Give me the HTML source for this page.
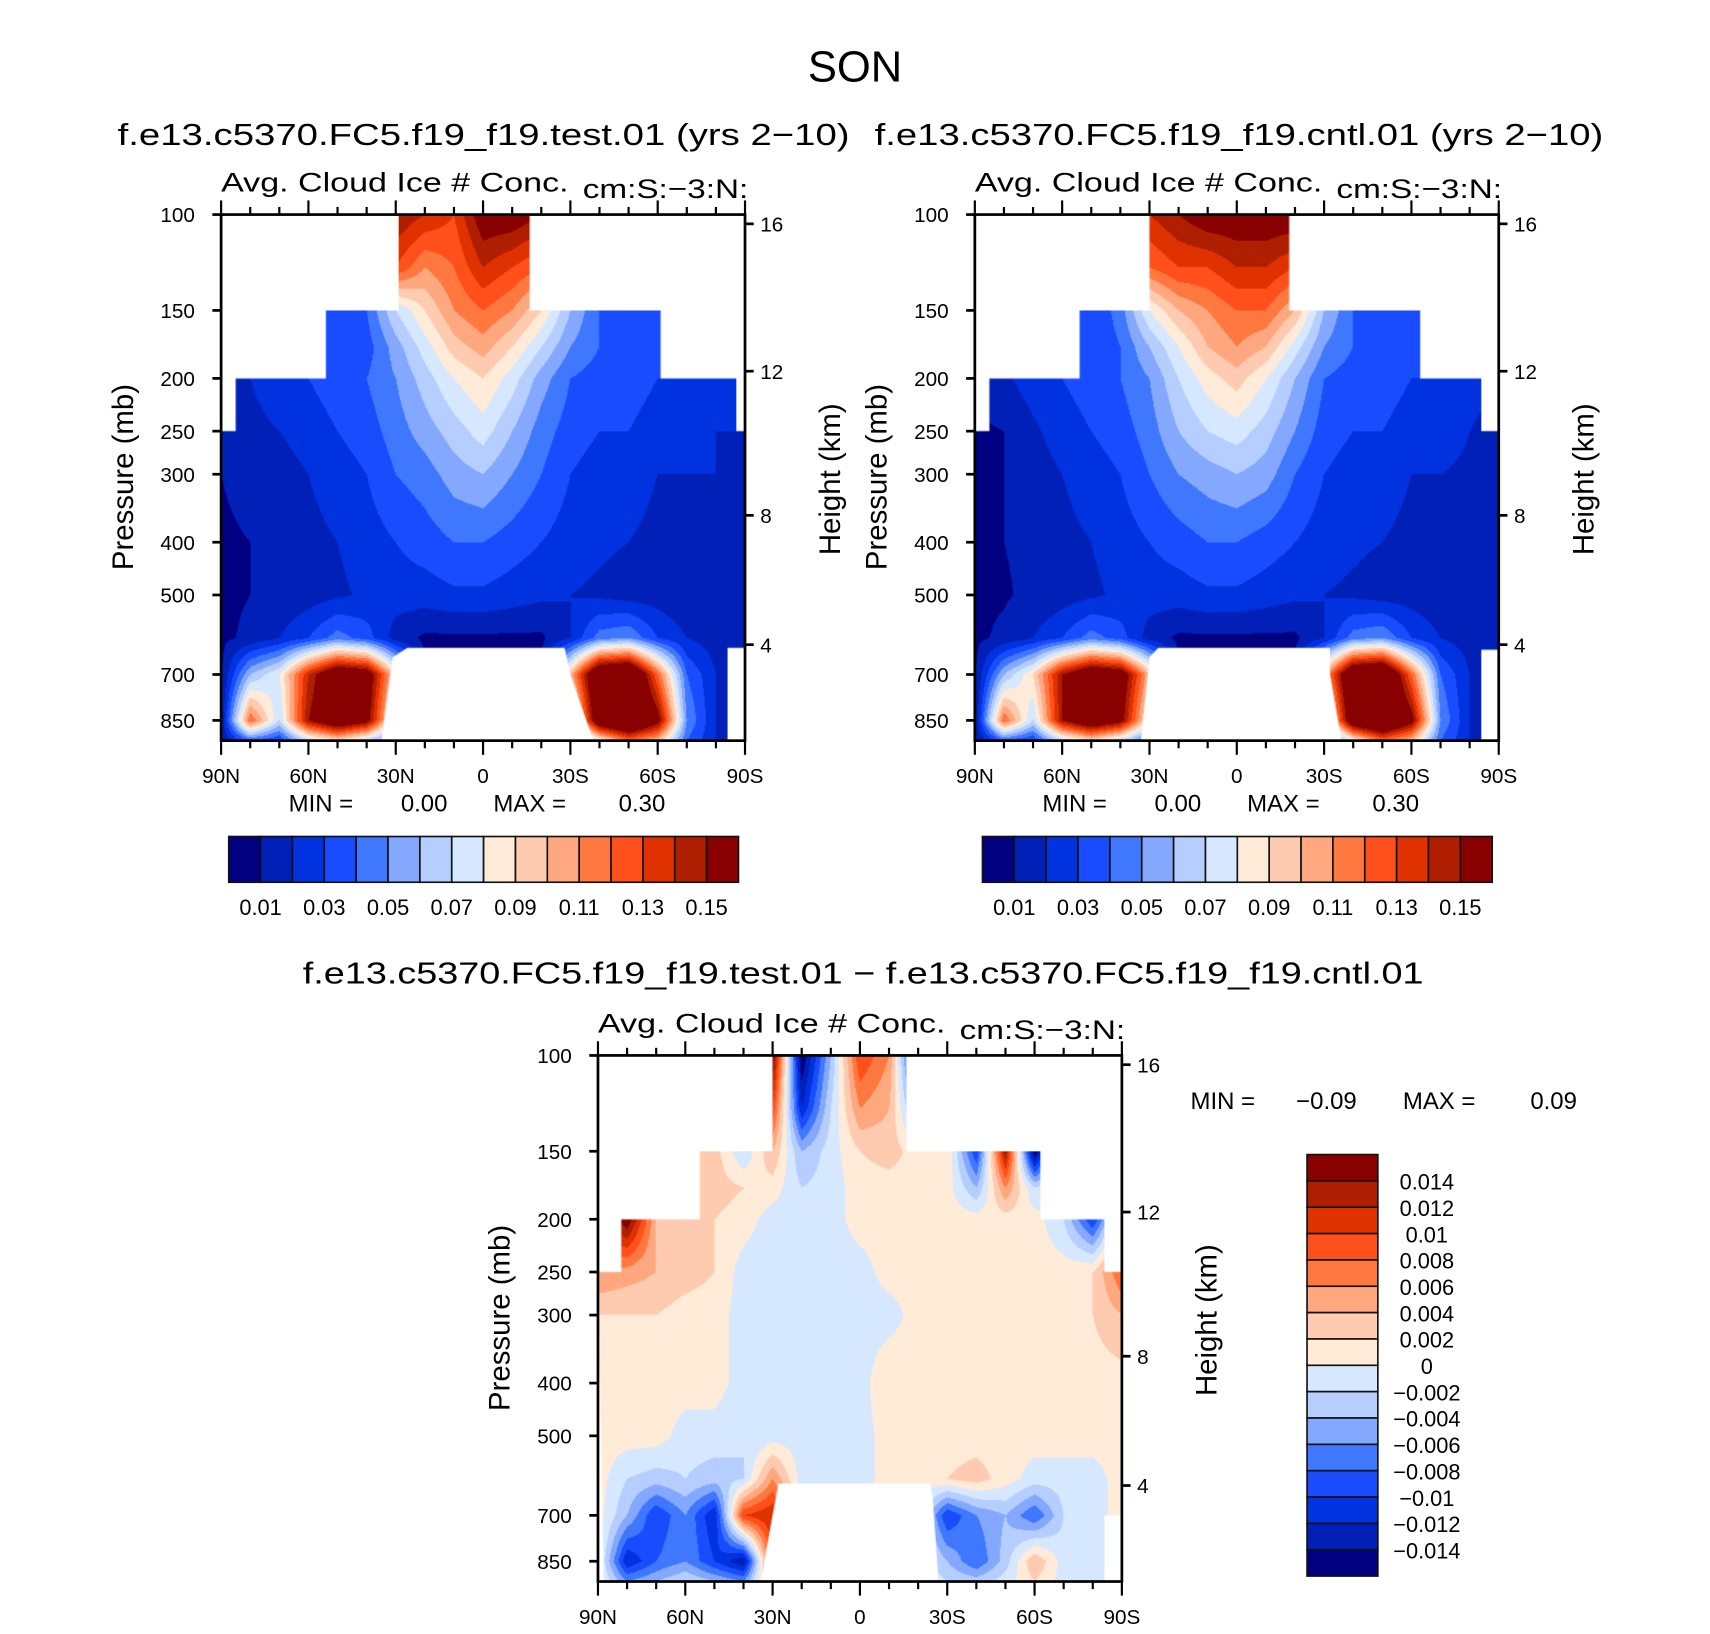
<!DOCTYPE html>
<html><head><meta charset="utf-8">
<style>
html,body{margin:0;padding:0;background:#fff;}
#wrap{position:relative;width:1710px;height:1634px;overflow:hidden;}
#inner{position:absolute;left:0;top:0;width:1570px;height:1500px;transform:scale(1.0892);transform-origin:0 0;}
canvas{position:absolute;}
svg{position:absolute;left:0;top:0;}
text{font-family:"Liberation Sans",sans-serif;fill:#000;}
</style></head>
<body>
<div id="wrap">
<div id="inner">
<canvas id="c0" width="481" height="483" style="left:203px;top:197px"></canvas>
<canvas id="c1" width="481" height="483" style="left:895px;top:197px"></canvas>
<canvas id="c2" width="481" height="483" style="left:549px;top:969px"></canvas>
<svg id="svg" width="1570" height="1500" viewBox="0 0 1570 1500">
<text x="785" y="75" font-size="40" text-anchor="middle">SON</text>
<text x="108" y="133" font-size="28" textLength="672" lengthAdjust="spacingAndGlyphs">f.e13.c5370.FC5.f19_f19.test.01 (yrs 2−10)</text>
<text x="803" y="133" font-size="28" textLength="669" lengthAdjust="spacingAndGlyphs">f.e13.c5370.FC5.f19_f19.cntl.01 (yrs 2−10)</text>
<text x="278" y="903" font-size="28" textLength="1029" lengthAdjust="spacingAndGlyphs">f.e13.c5370.FC5.f19_f19.test.01 − f.e13.c5370.FC5.f19_f19.cntl.01</text>
<g>
<text x="1093" y="1018" font-size="22">MIN =</text>
<text x="1190" y="1018" font-size="22">−0.09</text>
<text x="1288" y="1018" font-size="22">MAX =</text>
<text x="1405" y="1018" font-size="22">0.09</text>
</g>
</svg>
</div></div>
<script>
const lats=[90,80,70,60,50,40,30,20,10,0,-10,-20,-30,-40,-50,-60,-70,-80,-90];
const pres=[100,125,150,175,200,250,300,400,500,600,700,850,925];
const testVals=[
[.02,.02,.03,.05,.08,.12,.15,.14,.13,.16,.16,.15,.10,.06,.03,.02,.02,.02,.02],
[.02,.02,.03,.04,.06,.09,.13,.11,.12,.14,.13,.12,.08,.05,.03,.02,.02,.02,.02],
[.015,.02,.025,.03,.03,.04,.07,.09,.11,.12,.11,.09,.06,.04,.04,.03,.03,.02,.02],
[.015,.02,.025,.03,.03,.035,.055,.075,.095,.105,.09,.07,.05,.04,.035,.03,.03,.02,.02],
[.015,.02,.03,.03,.035,.04,.05,.065,.08,.09,.075,.055,.04,.035,.035,.03,.03,.025,.02],
[.01,.015,.02,.025,.03,.035,.045,.055,.065,.075,.06,.045,.035,.03,.03,.025,.025,.02,.02],
[.01,.012,.015,.02,.025,.03,.04,.045,.055,.06,.05,.04,.03,.025,.025,.02,.02,.02,.015],
[.009,.01,.012,.017,.02,.025,.03,.035,.04,.04,.035,.03,.025,.022,.02,.017,.015,.015,.012],
[.008,.01,.012,.015,.018,.022,.025,.025,.028,.028,.025,.022,.02,.018,.015,.015,.012,.012,.01],
[.008,.012,.02,.03,.045,.035,.015,.008,.008,.008,.008,.008,.02,.045,.05,.03,.02,.015,.01],
[.008,.06,.08,.14,.18,.17,.09,.01,.01,.01,.01,.01,.10,.19,.2,.12,.04,.02,.01],
[.01,.12,.07,.15,.18,.16,.07,.01,.01,.01,.01,.01,.06,.18,.2,.16,.05,.02,.01],
[.01,.04,.03,.07,.09,.07,.04,.01,.01,.01,.01,.01,.03,.08,.12,.1,.04,.02,.01]];
const cntlVals=[
[.02,.02,.03,.05,.08,.12,.14,.15,.16,.16,.16,.16,.10,.06,.03,.02,.02,.02,.02],
[.02,.02,.03,.04,.06,.09,.12,.13,.13,.14,.14,.13,.08,.05,.03,.02,.02,.02,.02],
[.015,.02,.025,.03,.03,.045,.08,.10,.11,.12,.12,.10,.06,.04,.035,.03,.03,.02,.02],
[.015,.02,.025,.03,.03,.04,.06,.08,.10,.11,.10,.075,.05,.04,.035,.03,.03,.02,.02],
[.012,.018,.025,.03,.035,.04,.05,.07,.085,.095,.08,.06,.04,.035,.035,.03,.03,.025,.02],
[.008,.01,.018,.025,.03,.035,.045,.06,.07,.075,.065,.05,.035,.03,.03,.025,.025,.02,.015],
[.008,.01,.015,.02,.025,.03,.04,.05,.055,.06,.055,.04,.03,.025,.025,.02,.02,.018,.012],
[.008,.01,.012,.017,.02,.025,.03,.035,.04,.04,.035,.03,.025,.022,.02,.017,.015,.013,.01],
[.008,.009,.012,.015,.018,.022,.025,.025,.028,.028,.025,.022,.02,.018,.015,.015,.012,.011,.01],
[.008,.012,.02,.03,.045,.035,.015,.008,.008,.008,.008,.008,.02,.045,.05,.03,.02,.015,.01],
[.008,.06,.09,.15,.18,.17,.10,.01,.01,.01,.01,.01,.10,.19,.2,.12,.04,.02,.01],
[.008,.12,.07,.15,.18,.16,.08,.01,.01,.01,.01,.01,.06,.18,.2,.16,.05,.02,.01],
[.008,.04,.03,.07,.09,.07,.04,.01,.01,.01,.01,.01,.03,.08,.12,.1,.04,.02,.01]];
const diffVals=[
[0,0,0,0,0,.005,.016,-.016,-.004,.01,.006,-.014,0,0,0,0,0,0,0],
[0,0,0,0,0,.004,.01,-.012,-.002,.006,.004,-.006,0,0,0,0,0,0,0],
[.002,.003,.004,.004,.003,-.002,.004,-.004,-.001,.002,.003,.001,.002,-.01,.014,-.016,.002,.002,.002],
[.002,.003,.003,.003,.003,.002,.001,-.002,-.001,.001,.001,.001,.001,-.004,.006,-.002,.001,.001,.001],
[.01,.016,.004,.004,.002,.001,-.001,-.001,-.001,.001,.001,.0005,.001,.001,.001,.001,-.002,-.01,.002],
[.006,.005,.004,.003,.002,-.001,-.001,-.001,-.001,-.001,.001,.001,.001,.001,.001,.001,.001,.002,.008],
[.002,.002,.002,.001,.001,-.001,-.001,-.001,-.001,-.001,-.001,.001,.001,.001,.001,.001,.001,.002,.004],
[.001,.001,.001,.001,.001,-.001,-.001,-.001,-.001,-.001,.002,.001,.001,.001,.001,.001,.001,.001,.001],
[.001,.001,.001,-.001,-.001,-.002,-.001,-.001,-.001,-.001,.001,.001,.001,.001,.001,.001,.001,.001,.001],
[.001,-.002,-.003,-.002,-.003,-.002,.006,-.001,-.001,-.001,.001,.001,.002,.003,.001,-.001,-.001,-.001,.001],
[.001,-.004,-.01,-.006,-.012,.01,.012,0,0,0,0,0,-.01,-.006,-.004,-.008,-.002,-.001,.001],
[.001,-.012,-.008,-.006,-.01,-.014,.01,0,0,0,0,0,-.004,-.008,-.003,.004,-.001,-.001,.001],
[.001,-.006,-.004,-.002,-.004,-.006,.006,0,0,0,0,0,-.002,-.003,-.001,.002,-.001,-.001,.001]];
const absLevels=[.01,.02,.03,.04,.05,.06,.07,.08,.09,.10,.11,.12,.13,.14,.15];
const diffLevels=[-.014,-.012,-.01,-.008,-.006,-.004,-.002,0,.002,.004,.006,.008,.01,.012,.014];
const absLabels=["0.01","0.03","0.05","0.07","0.09","0.11","0.13","0.15"];
const diffLabels=["0.014","0.012","0.01","0.008","0.006","0.004","0.002","0","−0.002","−0.004","−0.006","−0.008","−0.01","−0.012","−0.014"];
const palette=["#000080","#0020b8","#0032e0","#1a4cff","#3f78ff","#85a8ff","#b5ceff","#d6e8ff","#ffebd8","#ffcbb0","#ffa880","#ff7840","#ff4f1a","#e03200","#b01e00","#880000"];
const presTicks=[100,150,200,250,300,400,500,700,850];
const heightTicks=[16,12,8,4];
const heightPres=[104,194,357,617];
const latTicks=[90,60,30,0,-30,-60,-90];
const latTickLabels=["90N","60N","30N","0","30S","60S","90S"];
const maskTest=[[29,100],[-16,100],[-16,150],[-61,150],[-61,200],[-87,200],[-87,250],[-90,250],[-90,625],[-84,625],[-84,930],[-38,930],[-30,700],[-28,625],[26,625],[31,650],[35,930],[90,930],[90,250],[85,250],[85,200],[54,200],[54,150],[29,150]];
const maskCntl=[[30,100],[-18,100],[-18,150],[-63,150],[-63,200],[-84,200],[-84,250],[-90,250],[-90,630],[-84,630],[-84,930],[-36,930],[-32,700],[-32,625],[27,625],[30,650],[33,930],[90,930],[90,250],[85,250],[85,200],[54,200],[54,150],[30,150]];
const maskDiff=[[30,100],[-16,100],[-16,150],[-62,150],[-62,200],[-84,200],[-84,250],[-90,250],[-90,700],[-84,700],[-84,930],[-27,930],[-25,650],[-24,612],[28,612],[32,800],[34,930],[88,930],[90,250],[82,250],[82,200],[55,200],[55,150],[30,150]];

const W=481,H=483,KY=217;
function xOf(lat){return (90-lat)/180*W;}
function yOf(p){return KY*Math.log(p/100);}
function hex(c){return [parseInt(c.slice(1,3),16),parseInt(c.slice(3,5),16),parseInt(c.slice(5,7),16)];}
const rgb=palette.map(hex);
function levelIdx(v,levels){let k=0;for(const l of levels){if(v>=l-1e-9)k++;}return k;}
function sample(vals,lat,p){
  let fi=(90-lat)/10; if(fi<0)fi=0; if(fi>18)fi=18;
  let i=Math.min(17,Math.floor(fi)); let tx=fi-i;
  let lp=Math.log(p); let j=0;
  while(j<pres.length-2 && lp>Math.log(pres[j+1])) j++;
  let ty=(lp-Math.log(pres[j]))/(Math.log(pres[j+1])-Math.log(pres[j]));
  ty=Math.max(0,Math.min(1,ty));
  const a=vals[j][i],b=vals[j][i+1],c=vals[j+1][i],d=vals[j+1][i+1];
  return (a*(1-tx)+b*tx)*(1-ty)+(c*(1-tx)+d*tx)*ty;
}
function drawField(id,vals,levels,mask){
  const cv=document.getElementById(id),ctx=cv.getContext('2d');
  const off=document.createElement('canvas');off.width=W;off.height=H;
  const octx=off.getContext('2d');const img=octx.createImageData(W,H);
  for(let py=0;py<H;py++){const p=100*Math.exp((py+0.5)/KY);
    for(let px=0;px<W;px++){const lat=90-(px+0.5)/W*180;
      const v=sample(vals,lat,p);const c=rgb[levelIdx(v,levels)];
      const o=(py*W+px)*4;img.data[o]=c[0];img.data[o+1]=c[1];img.data[o+2]=c[2];img.data[o+3]=255;}}
  octx.putImageData(img,0,0);
  ctx.save();ctx.beginPath();
  mask.forEach((m,k)=>{const x=xOf(m[0]),y=yOf(m[1]);if(k)ctx.lineTo(x,y);else ctx.moveTo(x,y);});
  ctx.closePath();ctx.clip();ctx.drawImage(off,0,0);ctx.restore();
}
drawField('c0',testVals,absLevels,maskTest);
drawField('c1',cntlVals,absLevels,maskCntl);
drawField('c2',diffVals,diffLevels,maskDiff);

const NS="http://www.w3.org/2000/svg",svg=document.getElementById('svg');
function el(tag,attrs,parent){const e=document.createElementNS(NS,tag);for(const k in attrs)e.setAttribute(k,attrs[k]);(parent||svg).appendChild(e);return e;}
function txt(s,attrs){const t=el('text',attrs);t.textContent=s;return t;}

function axes(x0,y0,pfx){
  const g=el('g',{});
  
  
  const fr=el('rect',{x:x0,y:y0,width:W,height:H,fill:'none',stroke:'#000','stroke-width':2.5},g);
  
  
  for(let lat=90;lat>=-90;lat-=10){
    const x=x0+xOf(lat),major=(lat%30===0),L=major?13:7;
    el('line',{x1:x,y1:y0,x2:x,y2:y0-L,stroke:'#000','stroke-width':2},g);
    el('line',{x1:x,y1:y0+H,x2:x,y2:y0+H+L,stroke:'#000','stroke-width':2},g);
  }
  latTicks.forEach((lat,k)=>{
    const t=txt(latTickLabels[k],{x:x0+xOf(lat),y:y0+H+39,'font-size':19,'text-anchor':'middle'});
    
    
  });
  presTicks.forEach(p=>{
    const y=y0+yOf(p);
    el('line',{x1:x0,y1:y,x2:x0-8,y2:y,stroke:'#000','stroke-width':2.5},g);
    const t=txt(String(p),{x:x0-24,y:y+7,'font-size':19,'text-anchor':'end'});
    
    
  });
  heightTicks.forEach((h,k)=>{
    const y=y0+yOf(heightPres[k]);
    el('line',{x1:x0+W,y1:y,x2:x0+W+8,y2:y,stroke:'#000','stroke-width':2.5},g);
    const t=txt(String(h),{x:x0+W+14,y:y+7,'font-size':19});
    
    
  });
  const yl=txt('Pressure (mb)',{x:0,y:0,'font-size':27,'text-anchor':'middle',transform:`translate(${x0-81},${y0+241}) rotate(-90)`});
  
  
  const yr=txt('Height (km)',{x:0,y:0,'font-size':27,'text-anchor':'middle',transform:`translate(${x0+W+87},${y0+243}) rotate(-90)`});
  
  
  const a=txt('Avg. Cloud Ice # Conc.',{x:x0,y:y0-21,'font-size':25,textLength:319,lengthAdjust:'spacingAndGlyphs'});
  
  
  const u=txt('cm:S:−3:N:',{x:x0+332,y:y0-15,'font-size':25,textLength:152,lengthAdjust:'spacingAndGlyphs'});
  
  
}
axes(203,197,'test');axes(895,197,'cntl');axes(549,969,'diff');

function minmax(x,pfx){
  const g=el('g',{});
  
  
  const parts=[['MIN =',0],['0.00',103],['MAX =',188],['0.30',303]];
  parts.forEach(pt=>{const t=el('text',{x:x+pt[1],y:745,'font-size':22},g);t.textContent=pt[0];});
}
minmax(265,'test');minmax(957,'cntl');

function hbar(x0,pfx){
  const bw=468/16;
  palette.forEach((c,k)=>{
    const r=el('rect',{x:x0+k*bw,y:768,width:bw,height:42,fill:c,stroke:'#111','stroke-width':1.5});
    
    
  });
  absLabels.forEach((s,k)=>{
    const t=txt(s,{x:x0+(1+2*k)*bw,y:840,'font-size':20,'text-anchor':'middle'});
    
    
  });
}
hbar(210,'test');hbar(902,'cntl');

const bh=387/16;
palette.slice().reverse().forEach((c,k)=>{
  const r=el('rect',{x:1200,y:1060+k*bh,width:65,height:bh,fill:c,stroke:'#111','stroke-width':1.5});
  
  
});
diffLabels.forEach((s,k)=>{
  const t=txt(s,{x:1310,y:1060+(k+1)*bh+8,'font-size':20,'text-anchor':'middle'});
  
  
});
</script>
</body></html>
